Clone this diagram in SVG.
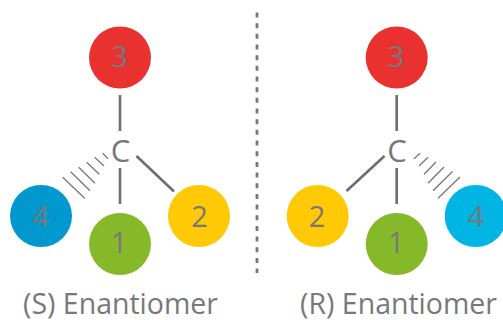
<svg xmlns="http://www.w3.org/2000/svg" width="503" height="320" viewBox="0 0 503 320">
<style>
text{font-family:"Open Sans","Noto Sans",sans-serif;fill:#77787b;text-anchor:middle}
.n{font-size:29px}
.c{font-size:31px}
.l{font-size:28.500px}
.b{stroke:#6d6e71;stroke-width:2.600;fill:none}
.h{stroke:#77787b;stroke-width:1.300;fill:none}
</style>
<rect width="503" height="320" fill="#fff"/>
<g id="connectors">
<path class="b" d="M120 95V131M120 168V204M136.500 156L174 191.500"/>
<path class="h" d="M62.700 177.300L84.700 198.300M70.700 171.700L90 190.700M78.700 167.300L95 183.300M86.700 162.300L99.300 174.300M94.700 157.300L104 166M102.700 153.300L108 158.700"/>
<path class="b" d="M396.700 95V131M396.700 168V204M384.500 156L346.500 191"/>
<path class="h" d="M460 177L438 198.300M452.500 171.500L433 190.700M444 167L428 183.300M436 162L424 174.300M428 157.300L419 166M420 153.300L414 158.700"/>
<path d="M257 12.500V273" stroke="#77787b" stroke-width="2.800" stroke-dasharray="5 5.670" fill="none"/>
</g>
<g id="c-s"><text class="c" x="120.500" y="162">C</text></g>
<g id="s3"><circle cx="120" cy="57.500" r="31" fill="#e93130"/><text class="n" x="119.500" y="66.500">3</text></g>
<g id="s4"><circle cx="41" cy="216" r="31" fill="#0098ce"/><text class="n" x="40.500" y="226.500">4</text></g>
<g id="s1"><circle cx="120" cy="244" r="31" fill="#86b92a"/><text class="n" x="119" y="252.500">1</text></g>
<g id="s2"><circle cx="199" cy="216" r="31" fill="#ffca05"/><text class="n" x="199.500" y="226.500">2</text></g>
<g id="c-r"><text class="c" x="397" y="162">C</text></g>
<g id="r3"><circle cx="396.700" cy="57.500" r="31" fill="#e93130"/><text class="n" x="396" y="66.500">3</text></g>
<g id="r2"><circle cx="317.700" cy="216" r="31" fill="#ffca05"/><text class="n" x="317" y="226.500">2</text></g>
<g id="r1"><circle cx="396.700" cy="244" r="31" fill="#86b92a"/><text class="n" x="396" y="252.500">1</text></g>
<g id="r4"><circle cx="475.700" cy="216" r="31" fill="#00b4e4"/><text class="n" x="476" y="226.500">4</text></g>
<text class="l" x="120.500" y="313.500">(S) Enantiomer</text>
<text class="l" x="398.500" y="313.500">(R) Enantiomer</text>
</svg>
